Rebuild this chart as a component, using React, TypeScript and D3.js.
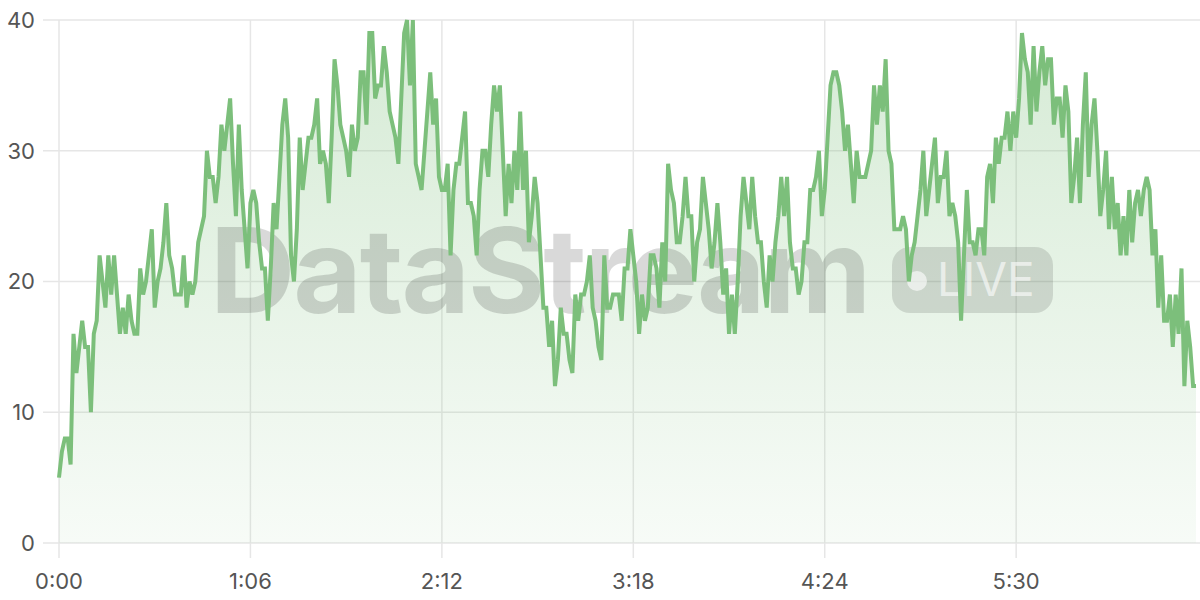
import React, { useEffect, useRef } from 'react';
import * as d3 from 'd3';

// one reading per second, 0:00 .. 6:32
const values: number[] = [
  5, 7, 8, 8, 6, 16, 13, 15, 17, 15,
  15, 10, 16, 17, 22, 20, 18, 22, 19, 22,
  19, 16, 18, 16, 19, 17, 16, 16, 21, 19,
  20, 22, 24, 18, 20, 21, 23, 26, 22, 21,
  19, 19, 19, 22, 18, 20, 19, 20, 23, 24,
  25, 30, 28, 28, 26, 28, 32, 30, 32, 34,
  29, 25, 32, 27, 24, 21, 26, 27, 26, 23,
  21, 21, 17, 21, 26, 24, 28, 32, 34, 31,
  22, 20, 24, 31, 27, 29, 31, 31, 32, 34,
  29, 30, 29, 26, 31, 37, 35, 32, 31, 30,
  28, 32, 30, 31, 36, 36, 32, 39, 39, 34,
  35, 35, 38, 36, 33, 32, 31, 29, 34, 39,
  40, 35, 40, 29, 28, 27, 30, 33, 36, 32,
  34, 28, 27, 27, 29, 22, 27, 29, 29, 31,
  33, 26, 26, 25, 22, 27, 30, 30, 28, 32,
  35, 33, 35, 30, 25, 29, 26, 30, 27, 33,
  27, 30, 23, 25, 28, 26, 22, 18, 18, 15,
  17, 12, 14, 18, 16, 16, 14, 13, 19, 17,
  19, 19, 20, 22, 18, 17, 15, 14, 22, 18,
  18, 19, 19, 19, 17, 21, 21, 24, 22, 20,
  16, 19, 17, 18, 22, 22, 21, 18, 23, 20,
  29, 27, 26, 23, 23, 25, 28, 25, 25, 20,
  23, 24, 28, 26, 24, 21, 23, 26, 23, 19,
  21, 16, 19, 16, 20, 25, 28, 26, 24, 28,
  25, 23, 23, 20, 18, 22, 20, 23, 25, 28,
  25, 28, 23, 21, 21, 19, 20, 23, 23, 27,
  27, 28, 30, 25, 27, 31, 35, 36, 36, 35,
  33, 30, 32, 29, 26, 30, 28, 28, 28, 29,
  30, 35, 32, 35, 33, 37, 30, 29, 24, 24,
  24, 25, 24, 20, 22, 23, 25, 27, 30, 25,
  27, 29, 31, 26, 28, 28, 30, 25, 26, 25,
  23, 17, 22, 27, 23, 23, 22, 24, 24, 22,
  28, 29, 26, 31, 29, 31, 31, 33, 30, 33,
  31, 34, 39, 37, 36, 32, 38, 33, 36, 38,
  35, 37, 37, 32, 34, 34, 31, 35, 33, 26,
  28, 31, 26, 32, 36, 28, 32, 34, 30, 25,
  27, 30, 24, 28, 24, 26, 22, 25, 22, 27,
  23, 26, 27, 25, 27, 28, 27, 22, 24, 18,
  22, 17, 17, 19, 15, 19, 16, 21, 12, 17,
  15, 12, 12,
];

const xTickSeconds = [0, 66, 132, 198, 264, 330];
const yTickValues = [0, 10, 20, 30, 40];

const lineColor = '#7cbf7b';
const fontFamily = 'Inter, "Noto Sans", sans-serif';

const formatClock = (s: number) => `${Math.floor(s / 60)}:${String(s % 60).padStart(2, '0')}`;

const App: React.FC = () => {
  const svgRef = useRef<SVGSVGElement | null>(null);

  useEffect(() => {
    const width = 1200;
    const height = 600;
    const margin = { top: 20, right: 4, bottom: 57, left: 59 };

    const svg = d3.select(svgRef.current);
    svg.selectAll('*').remove();

    const x = d3.scaleLinear().domain([0, values.length - 1]).range([margin.left, width - margin.right]);
    const y = d3.scaleLinear().domain([0, 40]).range([height - margin.bottom, margin.top]);

    const defs = svg.append('defs');
    const grad = defs
      .append('linearGradient')
      .attr('id', 'areaFill')
      .attr('x1', 0)
      .attr('y1', 0)
      .attr('x2', 0)
      .attr('y2', 1);
    grad.append('stop').attr('offset', '0%').attr('stop-color', lineColor).attr('stop-opacity', 0.32);
    grad.append('stop').attr('offset', '100%').attr('stop-color', lineColor).attr('stop-opacity', 0.06);

    // grid + ticks
    const gridColor = '#e6e6e6';
    svg
      .append('g')
      .selectAll('line')
      .data(yTickValues)
      .enter()
      .append('line')
      .attr('x1', margin.left - 16)
      .attr('x2', width)
      .attr('y1', (d) => y(d))
      .attr('y2', (d) => y(d))
      .attr('stroke', gridColor)
      .attr('stroke-width', 1.5);

    svg
      .append('g')
      .selectAll('line')
      .data(xTickSeconds)
      .enter()
      .append('line')
      .attr('x1', (d) => x(d))
      .attr('x2', (d) => x(d))
      .attr('y1', margin.top)
      .attr('y2', height - margin.bottom + 15)
      .attr('stroke', gridColor)
      .attr('stroke-width', 1.5);

    svg
      .append('g')
      .selectAll('text')
      .data(yTickValues)
      .enter()
      .append('text')
      .attr('x', 35)
      .attr('y', (d) => y(d))
      .attr('dy', '0.36em')
      .attr('text-anchor', 'end')
      .attr('font-family', fontFamily)
      .attr('font-size', 22)
      .attr('fill', '#555')
      .text((d) => d);

    svg
      .append('g')
      .selectAll('text')
      .data(xTickSeconds)
      .enter()
      .append('text')
      .attr('x', (d) => x(d))
      .attr('y', 581)
      .attr('dy', '0.36em')
      .attr('text-anchor', 'middle')
      .attr('font-family', fontFamily)
      .attr('font-size', 22)
      .attr('fill', '#555')
      .text((d) => formatClock(d));

    const area = d3
      .area<number>()
      .x((_, i) => x(i))
      .y0(y(0))
      .y1((d) => y(d));

    svg.append('path').datum(values).attr('d', area).attr('fill', 'url(#areaFill)');

    // watermark
    const wm = svg.append('g').attr('pointer-events', 'none');
    wm.append('text')
      .attr('x', 210)
      .attr('y', 313)
      .attr('font-family', fontFamily)
      .attr('font-weight', 700)
      .attr('font-size', 118)
      .attr('letter-spacing', -2)
      .attr('fill', '#000')
      .attr('fill-opacity', 0.15)
      .text('DataStream');
    wm.append('rect')
      .attr('x', 892)
      .attr('y', 247)
      .attr('width', 161)
      .attr('height', 66)
      .attr('rx', 18)
      .attr('fill', '#000')
      .attr('fill-opacity', 0.12);
    wm.append('circle').attr('cx', 917).attr('cy', 281).attr('r', 10).attr('fill', '#fff').attr('fill-opacity', 0.6);
    wm.append('text')
      .attr('x', 937)
      .attr('y', 296)
      .attr('font-family', fontFamily)
      .attr('font-size', 46)
      .attr('fill', '#fff')
      .attr('fill-opacity', 0.6)
      .text('LIVE');

    const line = d3
      .line<number>()
      .x((_, i) => x(i))
      .y((d) => y(d));

    svg
      .append('path')
      .datum(values)
      .attr('d', line)
      .attr('fill', 'none')
      .attr('stroke', lineColor)
      .attr('stroke-width', 4)
      .attr('stroke-linejoin', 'miter');
  }, []);

  return (
    <svg
      ref={svgRef}
      width={1200}
      height={600}
      style={{ position: 'absolute', left: 0, top: 0, background: '#fff' }}
    />
  );
};

export default App;
